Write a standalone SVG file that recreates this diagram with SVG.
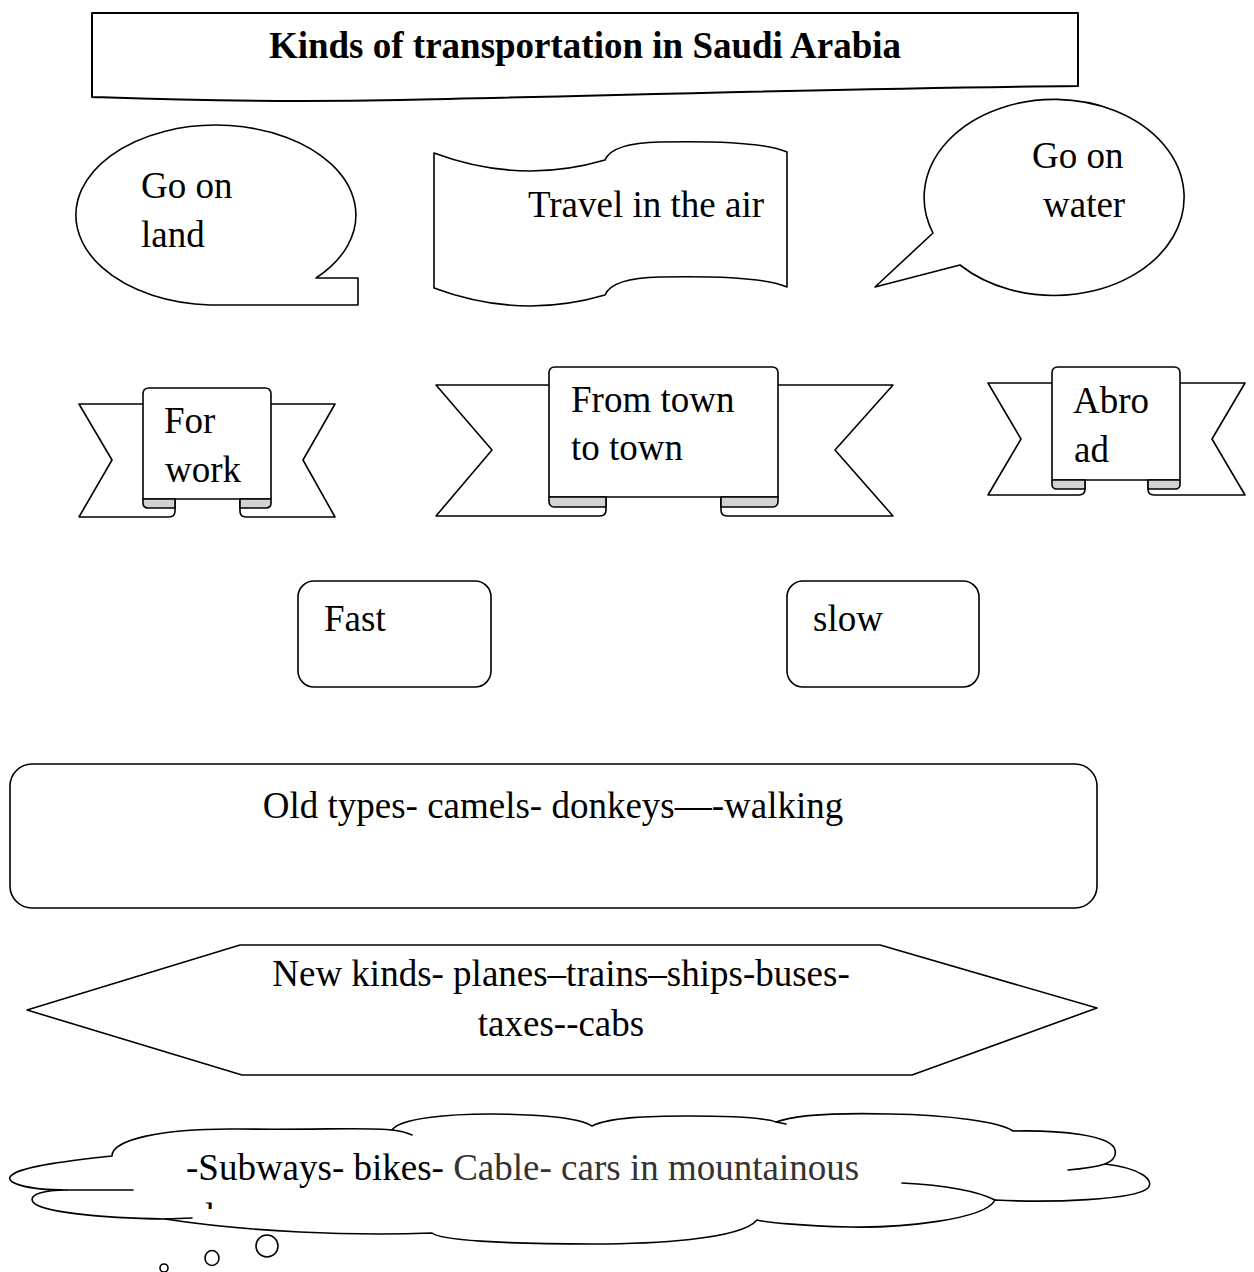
<svg xmlns="http://www.w3.org/2000/svg" width="1254" height="1272" viewBox="0 0 1254 1272">
  <style>
    .shape { fill: #ffffff; stroke: #000000; stroke-width: 1.6; stroke-linejoin: round; }
    .line { fill: none; stroke: #000000; stroke-width: 1.6; stroke-linecap: round; }
    .curl { fill: #d3d3d3; stroke: #000000; stroke-width: 1.6; stroke-linejoin: round; }
    .txt { font-family: "Liberation Serif", "Times New Roman", serif; font-size: 37px; fill: #000000; }
    .title { font-weight: bold; }
  </style>
  <defs>
    <clipPath id="cloudClip">
      <rect x="150" y="1195" width="120" height="14"/>
    </clipPath>
  </defs>
  <rect width="1254" height="1272" fill="#ffffff"/>

  <!-- Title banner with wavy lower edge -->
  <g id="title">
    <path class="shape" style="stroke-width:2" d="M 92 13 L 1078 13 L 1078 86 C 850 88 600 96 400 100 C 250 103 150 99 92 97 Z"/>
    <text class="txt title" x="585" y="58" text-anchor="middle">Kinds of transportation in Saudi Arabia</text>
  </g>

  <!-- Speech bubble: land -->
  <g id="land">
    <path class="shape" d="M 358 278 L 316 278 A 140 90 0 1 0 210 305 L 358 305 Z"/>
    <text class="txt" x="141" y="198">Go on</text>
    <text class="txt" x="141" y="247">land</text>
  </g>

  <!-- Wave (punched tape): air -->
  <g id="air">
    <path class="shape" d="M 434 153 Q 520 185 605 160 Q 612 143 660 142 Q 760 140 787 152 L 787 287 Q 760 275 660 277 Q 612 278 605 295 Q 520 320 434 288 Z"/>
    <text class="txt" x="528" y="217">Travel in the air</text>
  </g>

  <!-- Speech bubble: water -->
  <g id="water">
    <path class="shape" d="M 933 233 L 875 287 L 960 265 A 130 98 0 1 0 933 233 Z"/>
    <text class="txt" x="1032" y="168">Go on</text>
    <text class="txt" x="1043" y="217">water</text>
  </g>

  <!-- Ribbon: for work -->
  <g id="work">
    <path class="shape" d="M 79 404 H 175 V 511 Q 175 517 169 517 H 79 L 112 460 Z"/>
    <path class="shape" d="M 335 404 H 240 V 511 Q 240 517 246 517 H 335 L 303 460 Z"/>
    <path class="shape" d="M 143 499 V 394 Q 143 388 149 388 H 265 Q 271 388 271 394 V 499 Z"/>
    <path class="curl" d="M 143 499 H 175 V 508 H 147.5 A 4.5 4.5 0 0 1 143 503.5 Z"/>
    <path class="curl" d="M 271 499 H 240 V 508 H 266.5 A 4.5 4.5 0 0 0 271 503.5 Z"/>
    <text class="txt" x="164" y="433">For</text>
    <text class="txt" x="165" y="482">work</text>
  </g>

  <!-- Ribbon: town to town -->
  <g id="town">
    <path class="shape" d="M 436 385 H 606 V 510 Q 606 516 600 516 H 436 L 492 450 Z"/>
    <path class="shape" d="M 893 385 H 721 V 510 Q 721 516 727 516 H 893 L 835 450 Z"/>
    <path class="shape" d="M 549 497 V 373 Q 549 367 555 367 H 772 Q 778 367 778 373 V 497 Z"/>
    <path class="curl" d="M 549 497 H 606 V 507 H 554 A 5 5 0 0 1 549 502 Z"/>
    <path class="curl" d="M 778 497 H 721 V 507 H 773 A 5 5 0 0 0 778 502 Z"/>
    <text class="txt" x="571" y="412">From town</text>
    <text class="txt" x="571" y="460">to town</text>
  </g>

  <!-- Ribbon: abroad -->
  <g id="abroad">
    <path class="shape" d="M 988 383 H 1085 V 489 Q 1085 495 1079 495 H 988 L 1021 439 Z"/>
    <path class="shape" d="M 1245 383 H 1148 V 489 Q 1148 495 1154 495 H 1245 L 1212 439 Z"/>
    <path class="shape" d="M 1052 480 V 373 Q 1052 367 1058 367 H 1174 Q 1180 367 1180 373 V 480 Z"/>
    <path class="curl" d="M 1052 480 H 1085 V 489 H 1056.5 A 4.5 4.5 0 0 1 1052 484.5 Z"/>
    <path class="curl" d="M 1180 480 H 1148 V 489 H 1175.5 A 4.5 4.5 0 0 0 1180 484.5 Z"/>
    <text class="txt" x="1073" y="413">Abro</text>
    <text class="txt" x="1074" y="462">ad</text>
  </g>

  <!-- Rounded boxes -->
  <g id="fast">
    <rect class="shape" x="298" y="581" width="193" height="106" rx="16"/>
    <text class="txt" x="324" y="631">Fast</text>
  </g>
  <g id="slow">
    <rect class="shape" x="787" y="581" width="192" height="106" rx="16"/>
    <text class="txt" x="813" y="631">slow</text>
  </g>

  <g id="old">
    <rect class="shape" x="10" y="764" width="1087" height="144" rx="22"/>
    <text class="txt" x="553" y="818" text-anchor="middle">Old types- camels- donkeys—-walking</text>
  </g>

  <!-- Hexagon -->
  <g id="new">
    <path class="shape" d="M 27 1010 L 240 945 L 880 945 L 1097 1008 L 912 1075 L 242 1075 Z"/>
    <text class="txt" x="561" y="986" text-anchor="middle">New kinds- planes–trains–ships-buses-</text>
    <text class="txt" x="561" y="1036" text-anchor="middle">taxes--cabs</text>
  </g>

  <!-- Thought cloud -->
  <g id="cloud">
    <path class="shape" d="M 67 1190
      C 25 1190 2 1182 12 1175 C 22 1166 75 1160 112 1156
      C 112 1140 160 1128 240 1129 C 320 1130 370 1127 392 1130
      C 400 1118 450 1114 490 1114 C 540 1114 580 1118 592 1126
      C 610 1117 650 1116 688 1116 C 730 1116 765 1118 776 1122
      C 800 1113 850 1113 890 1114 C 950 1115 1000 1122 1013 1131
      C 1060 1130 1112 1135 1115 1150 C 1117 1158 1110 1162 1105 1164
      C 1140 1168 1155 1180 1148 1188 C 1135 1200 1050 1203 995 1200
      C 985 1220 900 1228 850 1227 C 800 1226 765 1222 757 1220
      C 740 1240 650 1244 592 1244 C 500 1244 440 1240 432 1233
      C 350 1236 250 1232 165 1219
      C 100 1218 40 1212 33 1202 C 28 1194 45 1190 67 1190 Z"/>
    <path class="line" d="M 392 1130 Q 403 1131 412 1135"/>
    <path class="line" d="M 776 1122 L 786 1124"/>
    <path class="line" d="M 1105 1164 C 1095 1167 1080 1169 1068 1170"/>
    <path class="line" d="M 902 1183 C 940 1185 975 1190 995 1200"/>
    <path class="line" d="M 165 1219 L 192 1218"/>
    <path class="line" d="M 67 1190 L 133 1190"/>
    <text class="txt" x="186" y="1180">-Subways- bikes- <tspan fill="#333333">Cable- cars in mountainous</tspan></text>
    <text class="txt" x="205" y="1229" clip-path="url(#cloudClip)">l</text>
    <circle class="shape" cx="267" cy="1246" r="11"/>
    <ellipse class="shape" cx="212" cy="1258" rx="7" ry="7.5"/>
    <circle class="shape" cx="164" cy="1268" r="4"/>
  </g>
</svg>
